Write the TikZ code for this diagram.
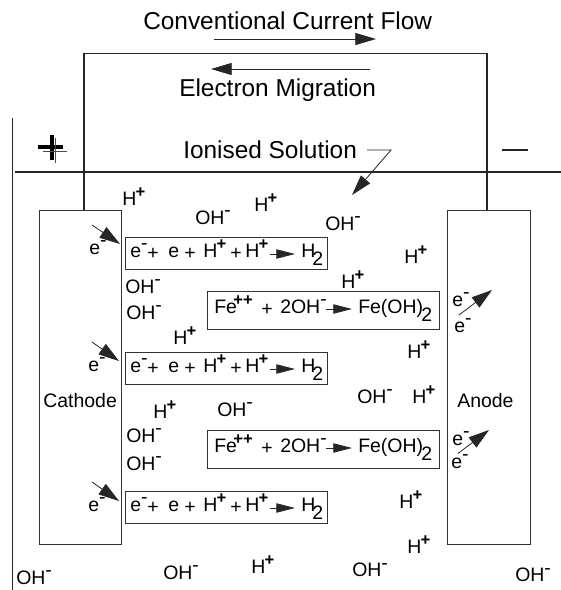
\documentclass[tikz,border=0pt]{standalone}
\usepackage{fontspec}
\setmainfont{Liberation Sans}
\usetikzlibrary{arrows.meta}
\newcommand{\plusion}[1]{#1\kern-0.04em\raisebox{0.40em}{\fontsize{12.5}{12.5}\selectfont\textbf{+}}}
\newcommand{\minusion}[1]{#1\raisebox{0.36em}{-}}
\tikzset{wire/.style={draw=black!85,line width=0.8pt}}
\tikzset{flowtip/.style={wire,line width=0.6pt,-{Triangle[length=15.5pt,width=9pt]}}}
\tikzset{smalltip/.style={wire,line width=0.6pt,-{Triangle[length=14pt,width=7pt]}}}
\tikzset{bigtext/.style={anchor=base west,inner sep=0pt,font=\fontsize{18.3}{20}\selectfont}}
\tikzset{ion/.style={anchor=base west,inner sep=0pt,font=\fontsize{14.6}{16}\selectfont}}
\tikzset{reactbox/.style={draw=black!80,line width=0.75pt,anchor=north west,inner sep=0pt}}
\begin{document}
\begin{tikzpicture}[x=0.75pt,y=-0.75pt]
\useasboundingbox (0,0) rectangle (561,590);
% headings
\node[bigtext] (current) at (143,29) {Conventional Current Flow};
\node[bigtext] (migration) at (179,96) {Electron Migration};
\node[bigtext] (solution) at (183,158) {Ionised Solution};
\coordinate (currentstart) at (214,39);
\coordinate (currentend) at (376,39);
\draw[flowtip] (currentstart) -- (currentend);
\coordinate (migrationstart) at (370,69);
\coordinate (migrationend) at (211,69);
\draw[flowtip] (migrationstart) -- (migrationend);
\coordinate (solutionstart) at (367,150);
\coordinate (solutionbend) at (391,150);
\coordinate (solutionend) at (352,195);
\draw[flowtip] (solutionstart) -- (solutionbend) -- (solutionend);
% cell
\node[reactbox,minimum width=61.5pt,minimum height=250.5pt] (cathode) at (39,209.5) {};
\node[reactbox,minimum width=62.25pt,minimum height=250.5pt] (anode) at (447,209.5) {};
\node[ion] (cathodetext) at (43,407) {Cathode};
\node[ion] (anodetext) at (457,407) {Anode};
\coordinate (wireleft) at (84,209.5);
\coordinate (wiretopleft) at (84,53.5);
\coordinate (wiretopright) at (487,53.5);
\coordinate (wireright) at (487,209.5);
\draw[wire] (wireleft) -- (wiretopleft) -- (wiretopright) -- (wireright);
\coordinate (levelleft) at (15,172);
\coordinate (levelright) at (561,172);
\draw[wire,line width=1pt] (levelleft) -- (levelright);
\coordinate (walltop) at (12.5,118);
\coordinate (wallbottom) at (12.5,590);
\draw[wire] (walltop) -- (wallbottom);
% poles
\coordinate (plusa) at (38,147);
\coordinate (plusb) at (63,147);
\coordinate (plusc) at (52,135);
\coordinate (plusd) at (52,160);
\draw[black,line width=2.8pt] (plusa) -- (plusb) (plusc) -- (plusd);
\coordinate (pluse) at (43,151);
\coordinate (plusf) at (67,151);
\coordinate (plusg) at (55,138);
\coordinate (plush) at (55,163);
\draw[black!70,line width=0.6pt] (pluse) -- (plusf) (plusg) -- (plush);
\coordinate (minusa) at (502,150);
\coordinate (minusb) at (528,150);
\draw[wire] (minusa) -- (minusb);
% reaction boxes
\foreach \y/\n in {237/a,352/b,491/c} {
  \node[reactbox,minimum width=151.5pt,minimum height=24pt] (hbox\n) at (125,\y) {};
  \node[ion] (ha\n) at (130,\y+20) {\minusion{e}};
  \node[ion] (hb\n) at (147,\y+22) {+};
  \node[ion] (hc\n) at (168,\y+20) {e};
  \node[ion] (hd\n) at (184,\y+22) {+};
  \node[ion] (he\n) at (203,\y+20) {\plusion{H}};
  \node[ion] (hf\n) at (230,\y+22) {+};
  \node[ion] (hg\n) at (245,\y+20) {\plusion{H}};
  \node[ion] (hh\n) at (301,\y+20) {H};
  \node[ion] (hi\n) at (312,\y+28.5) {2};
  \coordinate (hstart\n) at (270,\y+17);
  \coordinate (hend\n) at (295,\y+17);
  \draw[smalltip] (hstart\n) -- (hend\n);
}
\foreach \y/\n in {291/a,430/b} {
  \node[reactbox,minimum width=174pt,minimum height=28.5pt] (febox\n) at (207,\y) {};
  \node[ion] (fa\n) at (214,\y+22) {Fe};
  \node[ion] (fb\n) at (233,\y+14) {\fontsize{12.5}{12.5}\selectfont\textbf{++}};
  \node[ion] (fc\n) at (261,\y+24) {+};
  \node[ion] (fd\n) at (280,\y+22) {\minusion{2OH}};
  \node[ion] (fe\n) at (358,\y+22) {Fe(OH)};
  \node[ion] (ff\n) at (421,\y+30) {2};
  \coordinate (fstart\n) at (326,\y+18);
  \coordinate (fend\n) at (352,\y+18);
  \draw[smalltip] (fstart\n) -- (fend\n);
}
% ions in solution
\foreach \x/\y [count=\n] in {122/205,254/211,404/263,341/288,173/344,153/418,407/358,412/403,399/508,407/553,251/573} {
  \node[ion] (hplus\n) at (\x,\y) {\plusion{H}};
}
\foreach \x/\y [count=\n] in {195/224,325/230,125/293,126/319,217/416,126/442,126/470,16/584,163/579,357/403,352/576,515/581} {
  \node[ion] (ohminus\n) at (\x,\y) {\minusion{OH}};
}
\foreach \x/\y [count=\n] in {89/254,88/371,88/511,452/306,454/332,452/445,451/468} {
  \node[ion] (electron\n) at (\x,\y) {\minusion{e}};
}
% electron arrows
\foreach \xa/\ya/\xb/\yb [count=\n] in {92/225/120/244,92/342/119/361,92/482/119/501,459/315/492/290,458/453.5/489/430} {
  \coordinate (estart\n) at (\xa,\ya);
  \coordinate (eend\n) at (\xb,\yb);
  \draw[wire,line width=0.6pt,-{Triangle[length=15.5pt,width=9.5pt]}] (estart\n) -- (eend\n);
}
\end{tikzpicture}
\end{document}
